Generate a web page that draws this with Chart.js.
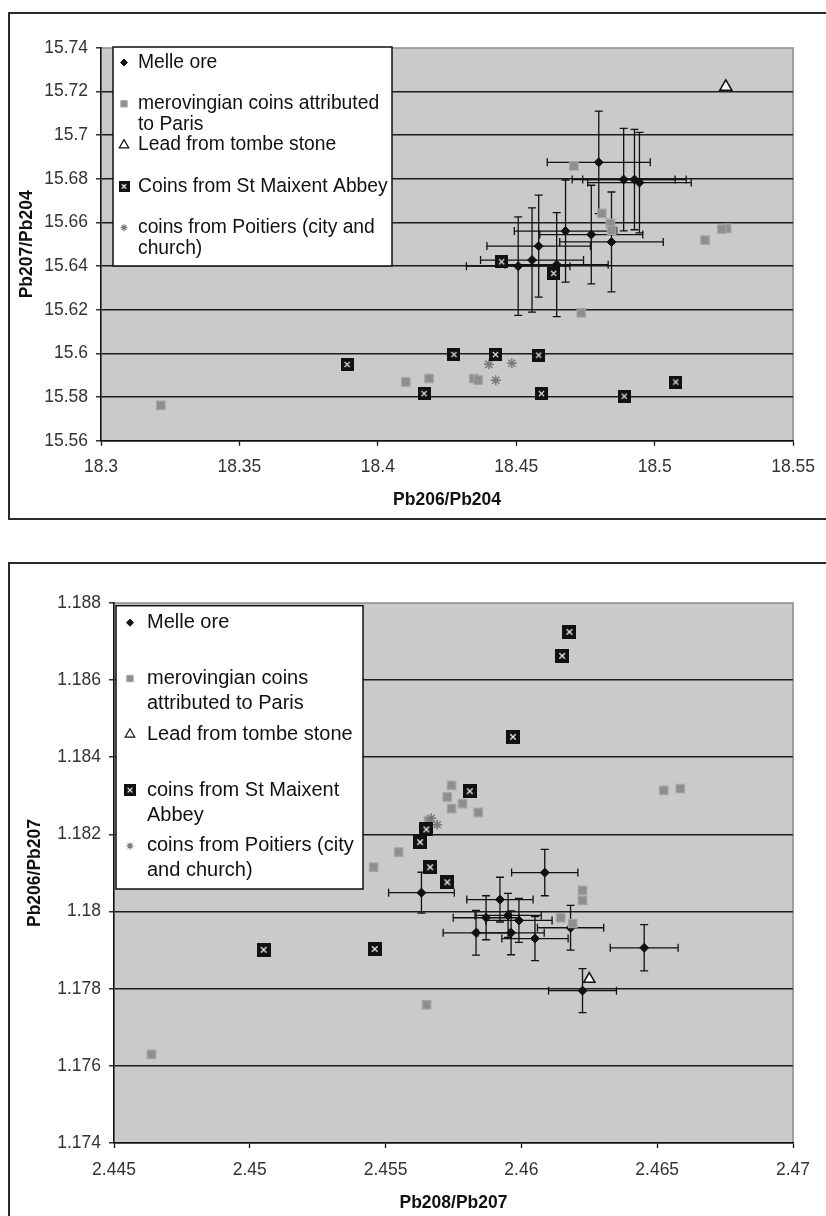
<!DOCTYPE html>
<html>
<head>
<meta charset="utf-8">
<script src="https://cdn.jsdelivr.net/npm/chart.js@4.4.0/dist/chart.umd.min.js"></script>
<style>
html, body { margin: 0; padding: 0; background: #fff; overflow: hidden; width: 826px; height: 1216px; }
.frame { position: absolute; left: 8px; border: 2px solid #2a2a2a; background: #fff; overflow: hidden; }
#f1 { top: 12px; width: 840px; height: 504px; }
#f2 { top: 562px; width: 840px; height: 700px; }
canvas { position: absolute; left: 0; top: 0; }
</style>
</head>
<body>
<div class="frame" id="f1"><canvas id="chart1" width="816" height="504"></canvas></div>
<div class="frame" id="f2"><canvas id="chart2" width="816" height="652"></canvas></div>
<script>
// ---- chart 1 : Pb207/Pb204 vs Pb206/Pb204 ----
const xTicks1 = [18.3, 18.35, 18.4, 18.45, 18.5, 18.55];
const xTickLabels1 = ['18.3', '18.35', '18.4', '18.45', '18.5', '18.55'];
const yTicks1 = [15.56, 15.58, 15.6, 15.62, 15.64, 15.66, 15.68, 15.7, 15.72, 15.74];
const yTickLabels1 = ['15.56', '15.58', '15.6', '15.62', '15.64', '15.66', '15.68', '15.7', '15.72', '15.74'];

const melleX1 = [18.4798, 18.4888, 18.4927, 18.4945, 18.4678, 18.4771, 18.4844, 18.4581, 18.4557, 18.4507, 18.4646];
const melleY1 = [15.6876, 15.6797, 15.6797, 15.6783, 15.6561, 15.6545, 15.6511, 15.6492, 15.6428, 15.6400, 15.6407];
const melleXErr1 = [0.0186, 0.0186, 0.0187, 0.0187, 0.0185, 0.0186, 0.0187, 0.0187, 0.0186, 0.0187, 0.0186];
const melleYErr1 = [0.0235, 0.0235, 0.0230, 0.0230, 0.0234, 0.0226, 0.0229, 0.0234, 0.0239, 0.0226, 0.0238];

const merovX1 = [18.3216, 18.4101, 18.4185, 18.4347, 18.4362, 18.4735, 18.4708, 18.4809, 18.4840, 18.4845, 18.5182, 18.5260, 18.5243];
const merovY1 = [15.5762, 15.5869, 15.5885, 15.5885, 15.5878, 15.6186, 15.6860, 15.6642, 15.6596, 15.6565, 15.6519, 15.6573, 15.6570];

const tombX1 = [18.5257];
const tombY1 = [15.7222];

const maixentX1 = [18.3889, 18.4275, 18.4425, 18.4581, 18.4167, 18.4591, 18.4890, 18.5076, 18.4447, 18.4635];
const maixentY1 = [15.5949, 15.5995, 15.5995, 15.5992, 15.5816, 15.5816, 15.5804, 15.5869, 15.6420, 15.6367];

const poitiersX1 = [18.4401, 18.4484, 18.4426];
const poitiersY1 = [15.5950, 15.5955, 15.5877];

const legendText1 = [
  ['Melle ore'],
  ['merovingian coins attributed', 'to Paris'],
  ['Lead from tombe stone'],
  ['Coins from St Maixent Abbey'],
  ['coins from Poitiers (city and', 'church)']
];

// ---- chart 2 : Pb206/Pb207 vs Pb208/Pb207 ----
const xTicks2 = [2.445, 2.45, 2.455, 2.46, 2.465, 2.47];
const xTickLabels2 = ['2.445', '2.45', '2.455', '2.46', '2.465', '2.47'];
const yTicks2 = [1.174, 1.176, 1.178, 1.18, 1.182, 1.184, 1.186, 1.188];
const yTickLabels2 = ['1.174', '1.176', '1.178', '1.18', '1.182', '1.184', '1.186', '1.188'];

const melleX2 = [2.45632, 2.46086, 2.45921, 2.45870, 2.45951, 2.45991, 2.45833, 2.45962, 2.46050, 2.46181, 2.46452, 2.46225];
const melleY2 = [1.18049, 1.18101, 1.18031, 1.17984, 1.17990, 1.17977, 1.17945, 1.17945, 1.17930, 1.17958, 1.17906, 1.17795];
const melleXErr2 = [0.00121, 0.00122, 0.00122, 0.00121, 0.00122, 0.00122, 0.00121, 0.00122, 0.00122, 0.00122, 0.00125, 0.00125];
const melleYErr2 = [0.00053, 0.00060, 0.00058, 0.00057, 0.00057, 0.00057, 0.00058, 0.00057, 0.00057, 0.00058, 0.00060, 0.00057];

const merovX2 = [2.44638, 2.45651, 2.46225, 2.46225, 2.46145, 2.46189, 2.46524, 2.46585, 2.45743, 2.45727, 2.45743, 2.45783, 2.45841, 2.45658, 2.45548, 2.45456];
const merovY2 = [1.17630, 1.17758, 1.18055, 1.18029, 1.17984, 1.17969, 1.18314, 1.18319, 1.18327, 1.18297, 1.18267, 1.18280, 1.18257, 1.18236, 1.18154, 1.18115];

const tombX2 = [2.46250];
const tombY2 = [1.17825];

const maixentX2 = [2.45051, 2.45460, 2.46177, 2.46150, 2.45969, 2.45810, 2.45627, 2.45664, 2.45727, 2.45650];
const maixentY2 = [1.17901, 1.17903, 1.18725, 1.18663, 1.18453, 1.18312, 1.18180, 1.18115, 1.18076, 1.18213];

const poitiersX2 = [2.45668, 2.45690];
const poitiersY2 = [1.18242, 1.18225];

const legendText2 = [
  ['Melle ore'],
  ['merovingian coins', 'attributed to Paris'],
  ['Lead from tombe stone'],
  ['coins from St Maixent', 'Abbey'],
  ['coins from Poitiers (city', 'and church)']
];

Chart.defaults.font.family = '"Liberation Sans", Arial, sans-serif';
Chart.defaults.color = '#333';

const zip = (xs, ys) => xs.map((x, i) => ({ x: x, y: ys[i] }));

function maixentMark(size) {
  const c = document.createElement('canvas');
  c.width = size; c.height = size;
  const g = c.getContext('2d');
  g.fillStyle = '#111';
  g.fillRect(0, 0, size, size);
  g.strokeStyle = '#eee';
  g.lineWidth = 1.3;
  const a = size * 0.3, b = size * 0.7;
  g.beginPath();
  g.moveTo(a, a); g.lineTo(b, b);
  g.moveTo(b, a); g.lineTo(a, b);
  g.stroke();
  return c;
}

const plotBackground = {
  id: 'plotBackground',
  beforeDraw(chart) {
    const { ctx, chartArea: a } = chart;
    ctx.save();
    ctx.fillStyle = '#cacaca';
    ctx.fillRect(a.left, a.top, a.right - a.left, a.bottom - a.top);
    ctx.strokeStyle = '#8a8a8a';
    ctx.lineWidth = 1.5;
    ctx.beginPath();
    ctx.moveTo(a.left, a.top); ctx.lineTo(a.right, a.top); ctx.lineTo(a.right, a.bottom);
    ctx.stroke();
    ctx.restore();
  }
};

function errorBars(xErr, yErr) {
  return {
    id: 'errorBars',
    beforeDatasetsDraw(chart) {
      const { ctx, chartArea: a } = chart;
      const xs = chart.scales.x, ys = chart.scales.y;
      const cap = 4;
      ctx.save();
      ctx.beginPath();
      ctx.rect(a.left, a.top, a.right - a.left, a.bottom - a.top);
      ctx.clip();
      ctx.strokeStyle = '#111';
      ctx.lineWidth = 1.3;
      chart.data.datasets[0].data.forEach((p, i) => {
        const cx = xs.getPixelForValue(p.x), cy = ys.getPixelForValue(p.y);
        const x0 = xs.getPixelForValue(p.x - xErr[i]), x1 = xs.getPixelForValue(p.x + xErr[i]);
        const y0 = ys.getPixelForValue(p.y - yErr[i]), y1 = ys.getPixelForValue(p.y + yErr[i]);
        ctx.beginPath();
        ctx.moveTo(x0, cy); ctx.lineTo(x1, cy);
        ctx.moveTo(x0, cy - cap); ctx.lineTo(x0, cy + cap);
        ctx.moveTo(x1, cy - cap); ctx.lineTo(x1, cy + cap);
        ctx.moveTo(cx, y0); ctx.lineTo(cx, y1);
        ctx.moveTo(cx - cap, y0); ctx.lineTo(cx + cap, y0);
        ctx.moveTo(cx - cap, y1); ctx.lineTo(cx + cap, y1);
        ctx.stroke();
      });
      ctx.restore();
    }
  };
}

function boxLegend(lines, lay) {
  return {
    id: 'boxLegend',
    afterDraw(chart) {
      const ctx = chart.ctx;
      const [x0, y0, x1, y1] = lay.box;
      ctx.save();
      ctx.fillStyle = '#fff';
      ctx.fillRect(x0, y0, x1 - x0, y1 - y0);
      ctx.strokeStyle = '#111';
      ctx.lineWidth = 1.5;
      ctx.strokeRect(x0, y0, x1 - x0, y1 - y0);
      ctx.font = lay.fontSize + 'px "Liberation Sans", Arial, sans-serif';
      ctx.textBaseline = 'middle';
      ctx.textAlign = 'left';
      lines.forEach((entry, i) => {
        const y = lay.firstY + i * lay.entryGap;
        const ds = chart.data.datasets[i];
        const m = lay.marks[i];
        ctx.fillStyle = ds.backgroundColor;
        ctx.strokeStyle = ds.borderColor;
        ctx.lineWidth = m.borderWidth;
        Chart.helpers.drawPoint(ctx, { pointStyle: m.style, radius: m.radius, rotation: 0, borderWidth: m.borderWidth }, lay.markerX, y);
        ctx.fillStyle = '#111';
        entry.forEach((t, k) => ctx.fillText(t, lay.textX, y + k * lay.lineGap));
      });
      ctx.restore();
    }
  };
}

function build(id, cfg) {
  const datasets = [
    { label: cfg.legend[0].join(' '), data: zip(cfg.melleX, cfg.melleY), pointStyle: 'rectRot', radius: 4.5, backgroundColor: '#111', borderColor: '#111', borderWidth: 1, order: 5 },
    { label: cfg.legend[1].join(' '), data: zip(cfg.merovX, cfg.merovY), pointStyle: 'rect', radius: 6, backgroundColor: '#8e8e8e', borderColor: '#a4a4a4', borderWidth: 1.2, order: 4 },
    { label: cfg.legend[2].join(' '), data: zip(cfg.tombX, cfg.tombY), pointStyle: 'triangle', radius: cfg.triRadius, backgroundColor: '#fff', borderColor: '#111', borderWidth: 1.5, order: 1 },
    { label: cfg.legend[3].join(' '), data: zip(cfg.maixentX, cfg.maixentY), pointStyle: maixentMark(cfg.squareSize), radius: 7, backgroundColor: '#111', borderColor: '#111', borderWidth: 1, order: 2 },
    { label: cfg.legend[4].join(' '), data: zip(cfg.poitiersX, cfg.poitiersY), pointStyle: 'star', radius: 5, backgroundColor: '#7a7a7a', borderColor: '#7a7a7a', borderWidth: 1.5, order: 3 }
  ];
  return new Chart(document.getElementById(id), {
    type: 'scatter',
    data: { datasets: datasets },
    options: {
      responsive: false,
      animation: false,
      layout: { padding: { left: 0, right: cfg.padRight, top: cfg.padTop, bottom: 0 } },
      plugins: { legend: { display: false }, tooltip: { enabled: false } },
      scales: {
        x: {
          type: 'linear', min: cfg.xTicks[0], max: cfg.xTicks[cfg.xTicks.length - 1],
          afterBuildTicks: s => { s.ticks = cfg.xTicks.map(v => ({ value: v })); },
          afterFit: s => { s.height = cfg.xAxisHeight; },
          ticks: { callback: (v, i) => cfg.xTickLabels[i], font: { size: 17.5 }, color: '#333', padding: cfg.xTickPad, maxRotation: 0 },
          grid: { drawOnChartArea: false, tickLength: 5, tickColor: '#111', tickWidth: 1.3 },
          border: { display: true, color: '#111', width: 1.6 },
          title: { display: true, text: cfg.xTitle, color: '#111', font: { size: 17.5, weight: 'bold' }, padding: { top: 0, bottom: cfg.xTitlePad } }
        },
        y: {
          type: 'linear', min: cfg.yTicks[0], max: cfg.yTicks[cfg.yTicks.length - 1],
          afterBuildTicks: s => { s.ticks = cfg.yTicks.map(v => ({ value: v })); },
          afterFit: s => { s.width = cfg.yAxisWidth; },
          ticks: { callback: (v, i) => cfg.yTickLabels[i], font: { size: 17.5 }, color: '#333', padding: 8 },
          grid: {
            color: c => (c.tick && c.tick.value === cfg.yTicks[cfg.yTicks.length - 1]) ? 'rgba(0,0,0,0)' : '#1c1c1c',
            lineWidth: 1.6, tickLength: 5, tickColor: '#111', tickWidth: 1.3
          },
          border: { display: true, color: '#111', width: 1.6 },
          title: { display: true, text: cfg.yTitle, color: '#111', font: { size: 17.5, weight: 'bold' }, padding: { top: cfg.yTitlePad, bottom: 0 } }
        }
      }
    },
    plugins: [plotBackground, errorBars(cfg.melleXErr, cfg.melleYErr), boxLegend(cfg.legend, cfg.legendLayout)]
  });
}

build('chart1', {
  melleX: melleX1, melleY: melleY1, melleXErr: melleXErr1, melleYErr: melleYErr1,
  merovX: merovX1, merovY: merovY1, tombX: tombX1, tombY: tombY1,
  maixentX: maixentX1, maixentY: maixentY1, poitiersX: poitiersX1, poitiersY: poitiersY1,
  legend: legendText1,
  xTicks: xTicks1, xTickLabels: xTickLabels1, yTicks: yTicks1, yTickLabels: yTickLabels1,
  xTitle: 'Pb206/Pb204', yTitle: 'Pb207/Pb204',
  padTop: 34, padRight: 31, yAxisWidth: 91, xAxisHeight: 77.3,
  xTickPad: 11, xTitlePad: 7, yTitlePad: 6.5,
  triRadius: 7, squareSize: 13,
  legendLayout: {
    box: [103, 33, 382, 252], markerX: 114, textX: 128, firstY: 48.5, entryGap: 41.3, lineGap: 21, fontSize: 19.3,
    marks: [
      { style: 'rectRot', radius: 3.5, borderWidth: 1 },
      { style: 'rect', radius: 4.5, borderWidth: 1 },
      { style: 'triangle', radius: 5.5, borderWidth: 1.2 },
      { style: maixentMark(11), radius: 6, borderWidth: 1 },
      { style: 'star', radius: 3.5, borderWidth: 1.2 }
    ]
  }
});

build('chart2', {
  melleX: melleX2, melleY: melleY2, melleXErr: melleXErr2, melleYErr: melleYErr2,
  merovX: merovX2, merovY: merovY2, tombX: tombX2, tombY: tombY2,
  maixentX: maixentX2, maixentY: maixentY2, poitiersX: poitiersX2, poitiersY: poitiersY2,
  legend: legendText2,
  xTicks: xTicks2, xTickLabels: xTickLabels2, yTicks: yTicks2, yTickLabels: yTickLabels2,
  xTitle: 'Pb208/Pb207', yTitle: 'Pb206/Pb207',
  padTop: 39, padRight: 33, yAxisWidth: 104, xAxisHeight: 73,
  xTickPad: 12, xTitlePad: 2.2, yTitlePad: 14.7,
  triRadius: 6.5, squareSize: 14,
  legendLayout: {
    box: [106, 41.7, 353, 325], markerX: 120, textX: 137, firstY: 58.7, entryGap: 55.8, lineGap: 25, fontSize: 20,
    marks: [
      { style: 'rectRot', radius: 3.5, borderWidth: 1 },
      { style: 'rect', radius: 4.5, borderWidth: 1 },
      { style: 'triangle', radius: 5.5, borderWidth: 1.2 },
      { style: maixentMark(12), radius: 6, borderWidth: 1 },
      { style: 'star', radius: 3.5, borderWidth: 1.2 }
    ]
  }
});
</script>
</body>
</html>
